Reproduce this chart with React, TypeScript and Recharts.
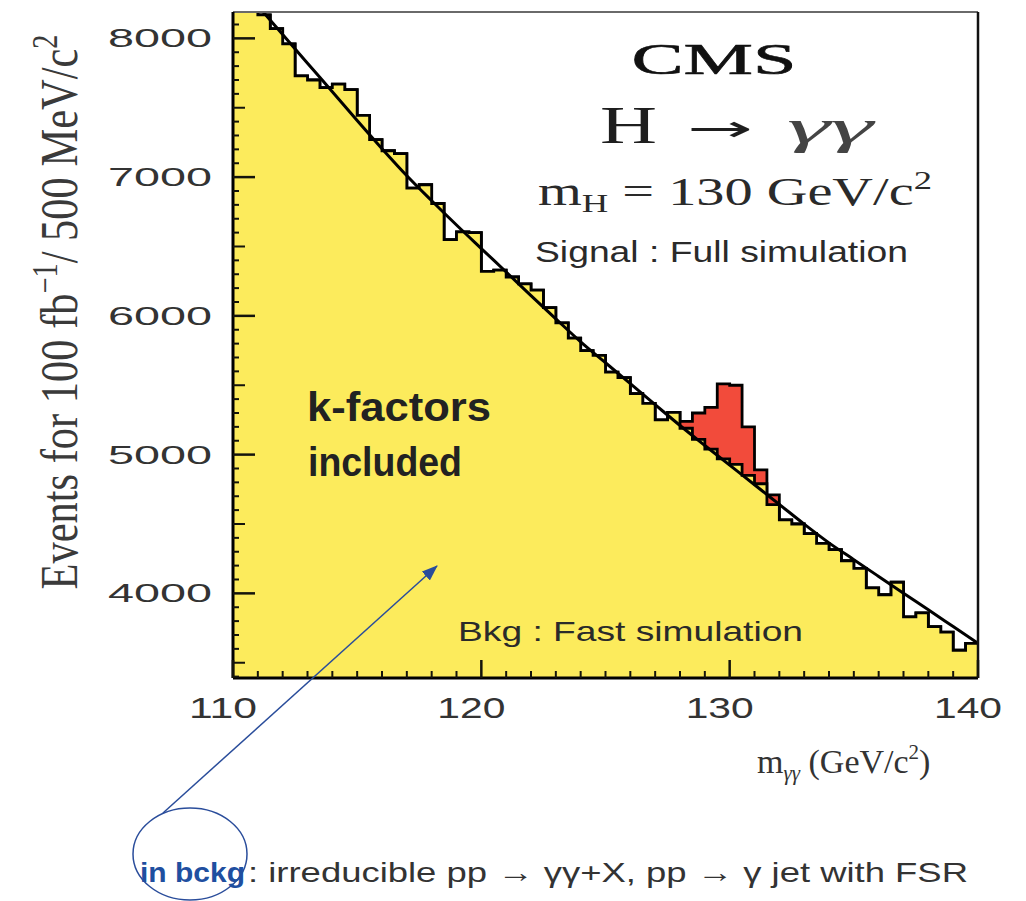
import React from 'react';
import { ComposedChart, Area, Line, XAxis, YAxis, ReferenceLine } from 'recharts';

// Lower edges of the 0.5 GeV/c^2 bins (m_gamma-gamma)
const binLowEdges = [
  110.0, 110.5, 111.0, 111.5, 112.0, 112.5, 113.0, 113.5, 114.0, 114.5,
  115.0, 115.5, 116.0, 116.5, 117.0, 117.5, 118.0, 118.5, 119.0, 119.5,
  120.0, 120.5, 121.0, 121.5, 122.0, 122.5, 123.0, 123.5, 124.0, 124.5,
  125.0, 125.5, 126.0, 126.5, 127.0, 127.5, 128.0, 128.5, 129.0, 129.5,
  130.0, 130.5, 131.0, 131.5, 132.0, 132.5, 133.0, 133.5, 134.0, 134.5,
  135.0, 135.5, 136.0, 136.5, 137.0, 137.5, 138.0, 138.5, 139.0, 139.5,
];
const upperEdge = 140;

// Background (fast simulation) events per bin
const backgroundCounts = [
  8400, 8290, 8170, 8070, 7960, 7730, 7700, 7645, 7670, 7630,
  7445, 7270, 7190, 7170, 6920, 6945, 6810, 6550, 6605, 6600,
  6320, 6330, 6280, 6230, 6185, 6060, 5950, 5840, 5750, 5715,
  5595, 5555, 5440, 5370, 5250, 5305, 5190, 5110, 5040, 4970,
  4930, 4850, 4790, 4640, 4530, 4500, 4430, 4360, 4315, 4235,
  4180, 4040, 3990, 4080, 3830, 3860, 3760, 3720, 3590, 3640,
];

// Signal (full simulation, mH = 130) events per bin, stacked on background
const signalCounts = [
  0, 0, 0, 0, 0, 0, 0, 0, 0, 0,
  0, 0, 0, 0, 0, 0, 0, 0, 0, 0,
  0, 0, 0, 0, 0, 0, 0, 0, 0, 0,
  0, 0, 0, 0, 0, 0, 50, 190, 300, 540,
  570, 350, 100, 70, 0, 0, 0, 0, 0, 0,
  0, 0, 0, 0, 0, 0, 0, 0, 0, 0,
];

// Background fit curve read at integer masses
const fitMass = [
  110, 111, 112, 113, 114, 115, 116, 117, 118, 119, 120,
  121, 122, 123, 124, 125, 126, 127, 128, 129, 130,
  131, 132, 133, 134, 135, 136, 137, 138, 139, 140,
];
const fitCounts = [
  8440, 8234, 8028, 7821, 7615, 7408, 7205, 7010, 6830, 6655, 6485,
  6316, 6146, 5978, 5813, 5662, 5511, 5360, 5210, 5066, 4924,
  4783, 4641, 4499, 4364, 4243, 4122, 4001, 3882, 3761, 3640,
];

const xTickValues = [
  110, 111, 112, 113, 114, 115, 116, 117, 118, 119, 120,
  121, 122, 123, 124, 125, 126, 127, 128, 129, 130,
  131, 132, 133, 134, 135, 136, 137, 138, 139, 140,
];
const xTickLabels = [110, 120, 130, 140];

const yTickValues = [
  3400, 3500, 3600, 3700, 3800, 3900, 4000, 4100, 4200, 4300, 4400, 4500,
  4600, 4700, 4800, 4900, 5000, 5100, 5200, 5300, 5400, 5500, 5600, 5700,
  5800, 5900, 6000, 6100, 6200, 6300, 6400, 6500, 6600, 6700, 6800, 6900,
  7000, 7100, 7200, 7300, 7400, 7500, 7600, 7700, 7800, 7900, 8000, 8100,
];
const yTickLabels = [4000, 5000, 6000, 7000, 8000];
const yMediumTicks = [3500, 4500, 5500, 6500, 7500];

const xDomain: [number, number] = [110, 140];
const yDomain: [number, number] = [3390, 8190];

const lastIdx = backgroundCounts.length - 1;
const histRows = binLowEdges.map((m, i) => ({
  m,
  bkg: backgroundCounts[i],
  total: backgroundCounts[i] + signalCounts[i],
}));
histRows.push({
  m: upperEdge,
  bkg: backgroundCounts[lastIdx],
  total: backgroundCounts[lastIdx] + signalCounts[lastIdx],
});
const chartData = histRows.map((r) => {
  const j = fitMass.indexOf(r.m);
  return { ...r, fit: j >= 0 ? fitCounts[j] : null };
});

const YELLOW = '#FCEB5C';
const RED = '#F24B3B';
const TICK = '#14140c';

const W = 1010;
const H = 893;
const MARGIN = { top: 4, right: 40, bottom: 0, left: 0 };
const X_AXIS_H = 223;
const Y_AXIS_W = 225;

// Same linear layout as the chart's plot frame (for the inner tick marks)
const PLOT_X0 = MARGIN.left + Y_AXIS_W;
const PLOT_Y0 = MARGIN.top;
const PLOT_W = W - MARGIN.left - MARGIN.right - Y_AXIS_W;
const PLOT_H = H - MARGIN.top - MARGIN.bottom - X_AXIS_H;
const sx = (m: number) => PLOT_X0 + ((m - xDomain[0]) / (xDomain[1] - xDomain[0])) * PLOT_W;
const sy = (v: number) => PLOT_Y0 + ((yDomain[1] - v) / (yDomain[1] - yDomain[0])) * PLOT_H;

const xTickLen = (v: number) => (xTickLabels.includes(v) ? 18 : 7);
const yTickLen = (v: number) =>
  yTickLabels.includes(v) ? 22 : yMediumTicks.includes(v) ? 12 : 6;

const XTickLabel = (props: any) => {
  const { x, y, payload } = props;
  const v = payload.value;
  if (!xTickLabels.includes(v)) return <g />;
  return (
    <text
      x={x - 10}
      y={y + 40}
      textAnchor="middle"
      fontFamily="'Liberation Sans', Arial, sans-serif"
      fontSize={30}
      fill="#333"
      textLength={68}
      lengthAdjust="spacingAndGlyphs"
    >
      {v}
    </text>
  );
};

const YTickLabel = (props: any) => {
  const { x, y, payload } = props;
  const v = payload.value;
  if (!yTickLabels.includes(v)) return <g />;
  return (
    <text
      x={x - 21}
      y={y}
      dy="0.36em"
      textAnchor="end"
      fontFamily="'Liberation Sans', Arial, sans-serif"
      fontSize={25}
      fill="#333"
      textLength={104}
      lengthAdjust="spacingAndGlyphs"
    >
      {v}
    </text>
  );
};

const SERIF = "'Liberation Serif', 'Times New Roman', serif";
const SANS = "'Liberation Sans', Arial, sans-serif";
const BLUE = '#2a4d9b';

export default function App() {
  return (
    <div style={{ position: 'relative', width: W, height: H }}>
      {/* Layer 1: histograms and fit */}
      <ComposedChart width={W} height={H} data={chartData} margin={MARGIN}>
        <XAxis
          type="number"
          dataKey="m"
          domain={xDomain}
          allowDataOverflow
          tick={false}
          tickLine={false}
          axisLine={false}
          height={X_AXIS_H}
        />
        <YAxis
          type="number"
          domain={yDomain}
          allowDataOverflow
          tick={false}
          tickLine={false}
          axisLine={false}
          width={Y_AXIS_W}
        />
        <Area
          type="stepAfter"
          dataKey="total"
          fill={RED}
          fillOpacity={1}
          stroke="#000"
          strokeWidth={2.8}
          isAnimationActive={false}
          dot={false}
          activeDot={false}
        />
        <Area
          type="stepAfter"
          dataKey="bkg"
          fill={YELLOW}
          fillOpacity={1}
          stroke="#000"
          strokeWidth={2.8}
          isAnimationActive={false}
          dot={false}
          activeDot={false}
        />
        <Line
          type="monotone"
          dataKey="fit"
          stroke="#000"
          strokeWidth={3}
          dot={false}
          activeDot={false}
          connectNulls
          isAnimationActive={false}
        />
      </ComposedChart>

      {/* Layer 2: frame, axes and labels */}
      <div style={{ position: 'absolute', left: 0, top: 0, zIndex: 2, pointerEvents: 'none' }}>
        <ComposedChart width={W} height={H} data={chartData} margin={MARGIN}>
          <Line
            dataKey="bkg"
            stroke="none"
            dot={false}
            activeDot={false}
            isAnimationActive={false}
          />
          <ReferenceLine y={yDomain[1]} stroke="#6a6a6a" strokeWidth={2} />
          <ReferenceLine x={upperEdge} stroke="#111" strokeWidth={2.5} />
          <XAxis
            type="number"
            dataKey="m"
            domain={xDomain}
            ticks={xTickValues}
            interval={0}
            allowDataOverflow
            tickSize={0}
            tickMargin={0}
            tickLine={false}
            tick={(p: any) => <XTickLabel {...p} />}
            axisLine={{ stroke: '#000', strokeWidth: 3 }}
            height={X_AXIS_H}
          />
          <YAxis
            type="number"
            domain={yDomain}
            ticks={yTickValues}
            interval={0}
            allowDataOverflow
            tickSize={0}
            tickMargin={0}
            tickLine={false}
            tick={(p: any) => <YTickLabel {...p} />}
            axisLine={{ stroke: '#000', strokeWidth: 3 }}
            width={Y_AXIS_W}
          />
        </ComposedChart>
      </div>

      {/* Layer 3: inner tick marks and text annotations */}
      <svg
        width={W}
        height={H}
        style={{ position: 'absolute', left: 0, top: 0, zIndex: 3, pointerEvents: 'none' }}
      >
        <defs>
          <marker
            id="arrowHead"
            markerWidth="16"
            markerHeight="12"
            refX="15"
            refY="6"
            orient="auto"
            markerUnits="userSpaceOnUse"
          >
            <path d="M0,0 L16,6 L0,12 z" fill={BLUE} />
          </marker>
        </defs>

        {/* ROOT-style inner ticks */}
        <g>
          {xTickValues.map((v) => (
            <line
              key={'xt' + v}
              x1={sx(v)}
              x2={sx(v)}
              y1={sy(yDomain[0])}
              y2={sy(yDomain[0]) - xTickLen(v)}
              stroke={TICK}
              strokeWidth={xTickLabels.includes(v) ? 2.5 : 2}
            />
          ))}
          {yTickValues.map((v) => (
            <line
              key={'yt' + v}
              x1={sx(xDomain[0])}
              x2={sx(xDomain[0]) + yTickLen(v)}
              y1={sy(v)}
              y2={sy(v)}
              stroke={TICK}
              strokeWidth={yTickLabels.includes(v) ? 2.5 : 2}
            />
          ))}
        </g>

        {/* Y axis title */}
        <text
          transform="translate(69,304) scale(1.27,1) rotate(-90)"
          textAnchor="middle"
          fontFamily={SERIF}
          fontSize={42}
          fill="#3a3a3a"
          textLength={555}
          lengthAdjust="spacingAndGlyphs"
        >
          Events for 100 fb
          <tspan dy={-16} fontSize={28}>−1</tspan>
          <tspan dy={16}>/ 500 MeV/c</tspan>
          <tspan dy={-16} fontSize={28}>2</tspan>
        </text>

        {/* X axis title */}
        <text x={749} y={765} fontFamily={SERIF} fontSize={34} fill="#333">
          m
          <tspan dy={7} fontSize={21} fontStyle="italic">γγ</tspan>
          <tspan dy={-7}> (GeV/c</tspan>
          <tspan dy={-14} fontSize={21}>2</tspan>
          <tspan dy={14}>)</tspan>
        </text>

        {/* CMS labels */}
        <text
          x={706}
          y={66}
          textAnchor="middle"
          fontFamily={SERIF}
          fontSize={44}
          fill="#111"
          stroke="#111"
          strokeWidth={0.6}
          textLength={165}
          lengthAdjust="spacingAndGlyphs"
        >
          CMS
        </text>
        <text
          x={592}
          y={135}
          fontFamily={SERIF}
          fontSize={52}
          fill="#1e1e1e"
          textLength={57}
          lengthAdjust="spacingAndGlyphs"
        >
          H
        </text>
        <text
          x={679}
          y={133}
          fontFamily="'DejaVu Sans', sans-serif"
          fontSize={36}
          fill="#1e1e1e"
          textLength={66}
          lengthAdjust="spacingAndGlyphs"
        >
          →
        </text>
        <text
          x={779}
          y={135}
          fontFamily={SERIF}
          fontStyle="italic"
          fontSize={48}
          fill="#444"
          textLength={86}
          lengthAdjust="spacingAndGlyphs"
        >
          γγ
        </text>
        <text
          x={530}
          y={197}
          fontFamily={SERIF}
          fontSize={40}
          fill="#2a2a2a"
          textLength={394}
          lengthAdjust="spacingAndGlyphs"
        >
          m
          <tspan dy={7} fontSize={26}>H</tspan>
          <tspan dy={-7}> = 130 GeV/c</tspan>
          <tspan dy={-16} fontSize={26}>2</tspan>
        </text>
        <text
          x={527}
          y={254}
          fontFamily={SANS}
          fontSize={29}
          fill="#2a2a2a"
          textLength={373}
          lengthAdjust="spacingAndGlyphs"
        >
          Signal : Full simulation
        </text>

        {/* In-plot annotations */}
        <text
          x={299}
          y={413}
          fontFamily={SANS}
          fontWeight="bold"
          fontSize={40}
          fill="#222"
          textLength={184}
          lengthAdjust="spacingAndGlyphs"
        >
          k-factors
        </text>
        <text
          x={300}
          y={468}
          fontFamily={SANS}
          fontWeight="bold"
          fontSize={40}
          fill="#222"
          textLength={154}
          lengthAdjust="spacingAndGlyphs"
        >
          included
        </text>
        <text
          x={450}
          y={633}
          fontFamily={SANS}
          fontSize={28}
          fill="#2a2a2a"
          textLength={345}
          lengthAdjust="spacingAndGlyphs"
        >
          Bkg : Fast simulation
        </text>

        {/* Arrow and ellipse */}
        <line
          x1={155}
          y1={805}
          x2={429}
          y2={558}
          stroke={BLUE}
          strokeWidth={1.5}
          markerEnd="url(#arrowHead)"
        />
        <ellipse cx={182} cy={846} rx={57} ry={46} fill="none" stroke={BLUE} strokeWidth={1.5} />

        {/* Bottom footnote */}
        <text
          x={132}
          y={874}
          fontFamily={SANS}
          fontWeight="bold"
          fontSize={28}
          fill="#1f4fa0"
          textLength={105}
          lengthAdjust="spacingAndGlyphs"
        >
          in bckg
        </text>
        <text
          x={240}
          y={874}
          fontFamily={SANS}
          fontSize={28}
          fill="#333"
          textLength={720}
          lengthAdjust="spacingAndGlyphs"
        >
          : irreducible pp → γγ+X, pp → γ jet with FSR
        </text>
      </svg>
    </div>
  );
}
